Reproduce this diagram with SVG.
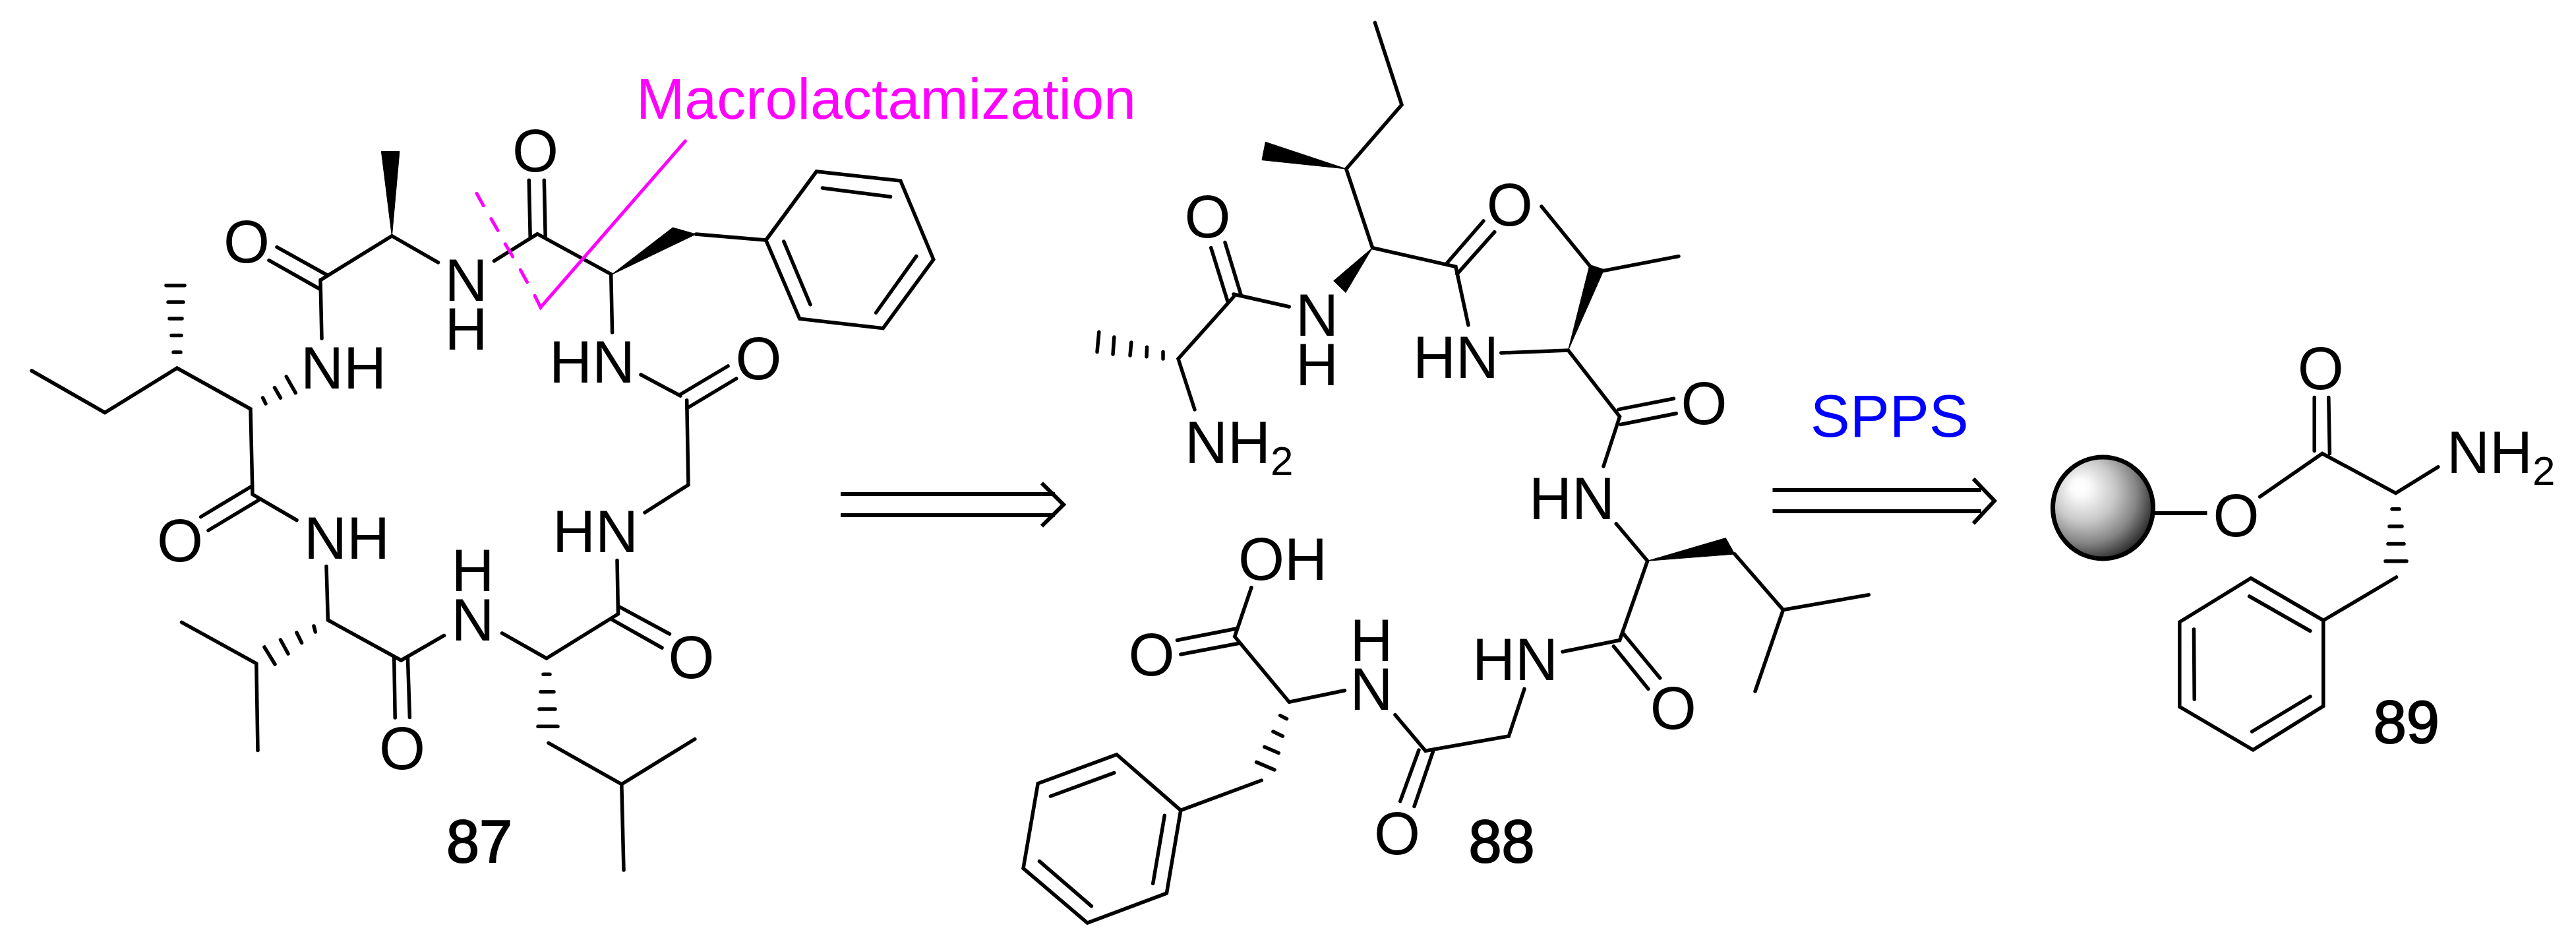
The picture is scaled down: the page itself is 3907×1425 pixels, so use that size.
<svg xmlns="http://www.w3.org/2000/svg" width="3907" height="1425" viewBox="0 0 3907 1425">
<style>
.b{fill:none;stroke:#000;stroke-width:5.5;stroke-linecap:round;stroke-linejoin:miter}
.a{fill:none;stroke:#000;stroke-width:6;stroke-linecap:butt;stroke-linejoin:miter}
.w{fill:#000;stroke:#000;stroke-width:1;stroke-linejoin:round}
.t{font-family:"Liberation Sans",Arial,sans-serif;font-size:90px;fill:#000}
.c{text-anchor:middle}
.s{font-size:62px}
.n{stroke:#000;stroke-width:2px}
.p{fill:none;stroke:#f0f;stroke-width:5;stroke-linecap:round;stroke-linejoin:miter}
</style>
<defs>
<radialGradient id="bead" gradientUnits="userSpaceOnUse" cx="3170" cy="752" r="105" fx="3153" fy="737">
<stop offset="0" stop-color="#fff"/>
<stop offset=".12" stop-color="#fcfcfc"/>
<stop offset=".45" stop-color="#c8c8c8"/>
<stop offset=".72" stop-color="#858585"/>
<stop offset=".95" stop-color="#303030"/>
<stop offset="1" stop-color="#111"/>
</radialGradient>
</defs>
<rect width="3907" height="1425" fill="#fff"/>

<g id="compound-87">
<path class="b" d="M48 562L159 625.5L268.5 558L380 620L383 749.5L450 788.5"/>
<path class="b" d="M380.3 738L304.6 783.5M392.6 758L316 804"/>
<path class="b" d="M486 424.6L488 513M420 374.6L496.2 417M408 394.7L484.7 438M486 424.6L594.4 357.7L664.5 397.9"/>
<path class="w" d="M578.4 229.6H605.9L594.4 357.7Z"/>
<path class="b" d="M749.4 395.6L815 354.6L926.7 415.7L928.6 504M802.3 273.3L804.2 359M825.3 273.3L827.2 359"/>
<path class="w" d="M927 416.7L1020.4 345L1055.6 355Z"/>
<path class="b" d="M1055.6 355L1161.7 364"/>
<path class="b" d="M1161.7 364L1238.3 260L1365.8 274L1415.8 393.3L1339.3 497.7L1212.8 483.3ZM1188.8 366L1229 461.7M1247.4 285L1350.5 298.3M1389.8 388.3L1328.6 474"/>
<path class="b" d="M972 568L1032 600M1041.7 606.7L1044 735L978 777M1104 555L1031.7 598M1116.7 574L1041.7 619"/>
<path class="b" d="M936 849.5L937.5 930.8L828.8 998L761.5 959.8M937.5 918.8L1015.5 961M927.5 938.8L1004 982"/>
<path class="b" d="M832 1126.3L942.8 1188.8L1053.8 1120.5M942.8 1188.8L946 1319"/>
<path class="b" d="M495 858.5L497.4 940L608.4 1001L673.5 963.4M597.7 997L599.2 1088M618.4 997L621.4 1087.5"/>
<path class="b" d="M275.5 943.3L388.8 1005.8L391 1137.5"/>
<path class="b" d="M263 534H274M260 508.6H275M257 483H276M255 458H278M252 432.7H280"/>
<path class="b" d="M398.6 603L403 612M416.5 587.6L425.4 603M434.3 571L448.3 595.6"/>
<path class="b" d="M476 949L478.3 958M450 959L457.6 974.5M425.5 970L437 991M401 981L417 1007"/>
<path class="b" d="M824 1022.3H834M820 1048.7H840M818 1075H842M816 1101.3H846"/>
<text class="t c" x="374" y="398">O</text>
<text class="t c" x="521" y="589">NH</text>
<text class="t c" x="707" y="456">N</text>
<text class="t c" x="707" y="530">H</text>
<text class="t c" x="812" y="260">O</text>
<text class="t c" x="898" y="580">HN</text>
<text class="t c" x="1150.5" y="575">O</text>
<text class="t c" x="903" y="837">HN</text>
<text class="t c" x="1048.4" y="1028">O</text>
<text class="t c" x="526" y="847">NH</text>
<text class="t c" x="273" y="851">O</text>
<text class="t c" x="717" y="896">H</text>
<text class="t c" x="717" y="971">N</text>
<text class="t c" x="610" y="1166">O</text>
<text class="t c n" x="727" y="1307">87</text>
</g>

<g id="annotation">
<path class="p" d="M1039.3 214L819.9 466L811.2 448.3M723 293.3L733.2 311.7M744.9 331.7L755.1 349.3M766.3 370L777.6 389M789.3 409L799.5 427.7"/>
<text class="t" x="965" y="180" style="fill:#f0f;font-size:88px">Macrolactamization</text>
</g>

<g id="arrow-1">
<path class="a" d="M1275 749H1600M1275 781H1600M1580 732.3L1613 765L1580 797.7"/>
</g>

<g id="compound-88">
<path class="b" d="M2085.4 34.4L2126 158.9L2041.8 256L2081.6 375.6L2207.9 404.3L2227 492.8"/>
<path class="w" d="M2041.8 256L1919.4 215.3L1914 242.6Z"/>
<path class="w" d="M2081.6 375.6L2022.7 425.8L2041 443.5Z"/>
<path class="b" d="M2250 335L2194 399.5M2266.8 351.7L2210 415.3"/>
<path class="b" d="M2338 313L2412 404L2432 410.5L2546 388.5"/>
<path class="w" d="M2378.5 531L2410.7 403L2432 410.5Z"/>
<path class="b" d="M2276.8 535L2378.5 531L2456.6 631.6L2432 707"/>
<path class="b" d="M2455 620.6L2538.5 604.3M2458 643.5L2542.3 626.8"/>
<path class="b" d="M1858 367.5L1882.7 448.8M1836.7 375.6L1862 457M1871 446L1955.3 465M1871 450L1787 544L1812 621"/>
<path class="b" d="M1764 533.5V544M1739.5 526.3L1739 540.7M1715.8 519L1714 539M1689.8 511L1688 537M1666.8 503.3L1664 533.5"/>
<path class="b" d="M2451.3 793.9L2498.7 850.3L2456.6 970.5L2370 988M2462.7 961.2L2517.8 1028M2447.4 979.7L2500 1044.4"/>
<path class="w" d="M2498.7 850.3L2617.3 815.6L2631 840Z"/>
<path class="b" d="M2631 840L2704.5 924.5L2834.4 901.7M2704.5 924.5L2662 1048"/>
<path class="b" d="M2312 1044.4L2288.3 1116L2162 1138.3L2116 1083.7M2152 1137L2123.7 1214.6M2173.5 1139L2145 1222.4"/>
<path class="b" d="M2039.5 1046.7L1955.3 1064.3L1872.7 965L1898 890.5M1785.4 970.5L1875 953M1790.8 992L1880.4 975"/>
<path class="b" d="M1941.6 1084.6L1951.5 1089.7M1930.9 1109L1945.4 1116M1917.8 1132.3L1939.3 1141.5M1905.6 1155.4L1933 1167"/>
<path class="b" d="M1913.3 1183L1790.8 1228.4"/>
<path class="b" d="M1790.8 1228.4L1693.6 1143.8L1574.2 1187.7L1552 1316.3L1649.2 1399L1769.4 1354.2ZM1766.3 1236.3L1748.7 1339.4M1689.8 1171.6L1593.4 1207M1576.5 1305.6L1655.4 1373.6"/>
<text class="t c" x="1831.4" y="360">O</text>
<text class="t c" x="1997.4" y="508.6">N</text>
<text class="t c" x="1997.4" y="583.7">H</text>
<text class="t" x="1797" y="702">NH<tspan class="s" dy="18">2</tspan></text>
<text class="t c" x="2289.8" y="342">O</text>
<text class="t c" x="2208" y="572.7">HN</text>
<text class="t c" x="2584.4" y="642.5">O</text>
<text class="t c" x="2384" y="786.5">HN</text>
<text class="t c" x="2537.7" y="1105">O</text>
<text class="t c" x="2298" y="1030.6">HN</text>
<text class="t c" x="1945.5" y="879.4">OH</text>
<text class="t c" x="1746.4" y="1024">O</text>
<text class="t c" x="2080" y="1002">H</text>
<text class="t c" x="2080" y="1075.9">N</text>
<text class="t c" x="2119" y="1295.4">O</text>
<text class="t c n" x="2277.5" y="1307">88</text>
</g>

<g id="arrow-2">
<text class="t c" x="2865.7" y="662" style="fill:#00f">SPPS</text>
<path class="a" d="M2688.5 743H3005M2688.5 775H3005M2993 725.8L3025 759.2L2993 793.6"/>
</g>

<g id="compound-89">
<ellipse cx="3189.5" cy="770" rx="76" ry="77" fill="url(#bead)" stroke="#000" stroke-width="7"/>
<path class="a" d="M3267 778H3347.5"/>
<path class="b" d="M3427.6 753L3522.2 687.5L3633.6 747.6L3697.8 707.8M3510.2 602.6V683.6M3531.8 602.6L3533.4 687.5"/>
<path class="b" d="M3628 771.8H3639M3624 798H3643M3622 824.6H3646M3618 850.8H3650"/>
<path class="b" d="M3634.5 875L3523.8 940.5"/>
<path class="b" d="M3523.8 940.5L3414 876.5L3305.8 943V1071.4L3417.2 1136.8L3523.8 1070.4ZM3411.6 904L3503.8 956.5M3327.4 954L3328.2 1060M3415.6 1109L3503.8 1056"/>
<text class="t c" x="3391.5" y="812.5">O</text>
<text class="t c" x="3519.8" y="589.5">O</text>
<text class="t" x="3711" y="716.5">NH<tspan class="s" dy="18">2</tspan></text>
<text class="t c n" x="3649.7" y="1126">89</text>
</g>
</svg>
